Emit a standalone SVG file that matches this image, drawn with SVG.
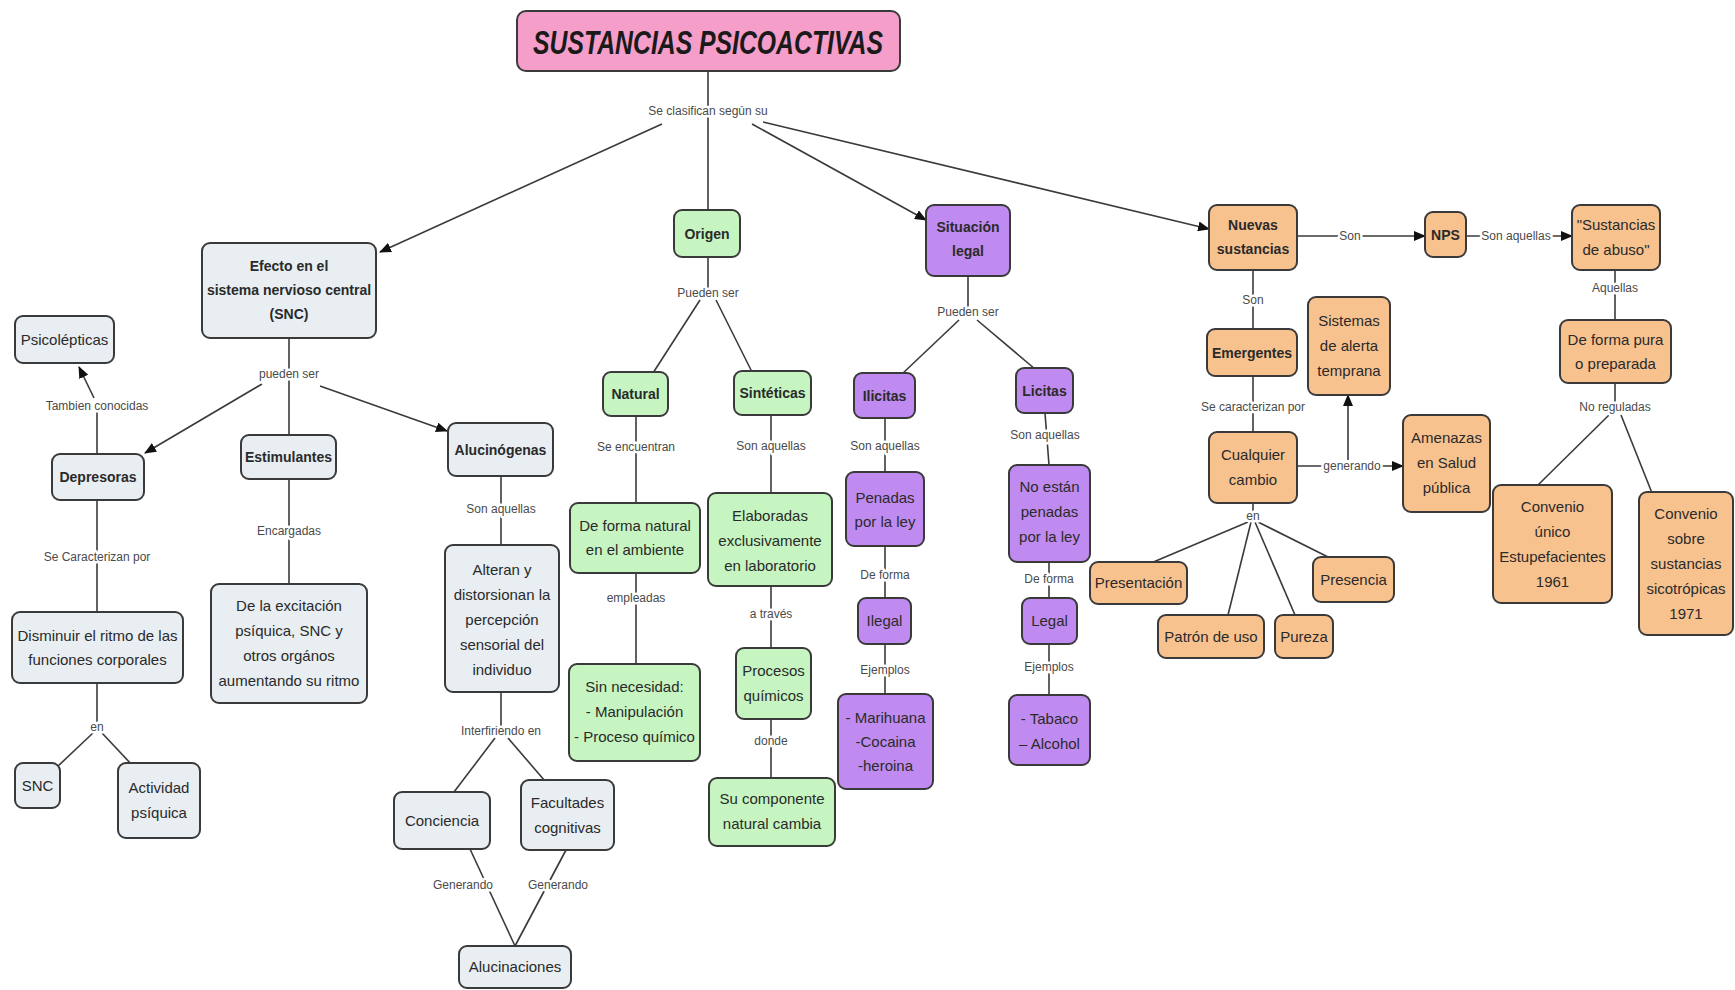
<svg xmlns="http://www.w3.org/2000/svg" width="1735" height="990" viewBox="0 0 1735 990">
<style>
.n rect{stroke:#3a3a3a;stroke-width:2}
.gray rect{fill:#e8eef2}
.green rect{fill:#c6f5c1}
.purple rect{fill:#c08bf0}
.orange rect{fill:#f8c28f}
.pink rect{fill:#f49ec9}
.n text{font-family:"Liberation Sans",Arial,sans-serif;font-size:15px;fill:#2a2a2a;text-anchor:middle}
.n text.b{font-weight:bold;font-size:14px}
.c line,.c path{stroke:#3a3a3a;stroke-width:1.6;fill:none}
.c .a{marker-end:url(#ah)}
.c text{font-family:"Liberation Sans",Arial,sans-serif;font-size:12px;fill:#4a4a4a;text-anchor:middle;paint-order:stroke;stroke:#fff;stroke-width:5px;stroke-linejoin:round}
</style>
<defs>
<marker id="ah" viewBox="0 0 12 10" refX="11" refY="5" markerWidth="12" markerHeight="10" markerUnits="userSpaceOnUse" orient="auto">
<path d="M0,0 L12,5 L0,10 Z" fill="#111"/>
</marker>
</defs>
<rect width="1735" height="990" fill="#fff"/>

<g id="connectors" class="c">
<line x1="708" y1="71" x2="708" y2="210"/>
<line class="a" x1="662" y1="124" x2="380" y2="252"/>
<line class="a" x1="752" y1="124" x2="926" y2="220"/>
<line class="a" x1="763" y1="122" x2="1209" y2="229"/>
<text x="708" y="115">Se clasifican según su</text>

<line x1="289" y1="338" x2="289" y2="435"/>
<line class="a" x1="262" y1="384" x2="145" y2="453"/>
<line class="a" x1="320" y1="386" x2="447" y2="431"/>
<text x="289" y="378">pueden ser</text>

<line x1="97" y1="454" x2="97" y2="412"/>
<line class="a" x1="94" y1="398" x2="79" y2="367"/>
<text x="97" y="410">Tambien conocidas</text>
<line x1="97" y1="500" x2="97" y2="612"/>
<text x="97" y="561">Se Caracterizan por</text>
<line x1="97" y1="683" x2="97" y2="722"/>
<line x1="93" y1="733" x2="57" y2="767"/>
<line x1="102" y1="733" x2="133" y2="766"/>
<text x="97" y="731">en</text>

<line x1="289" y1="479" x2="289" y2="584"/>
<text x="289" y="535">Encargadas</text>

<line x1="501" y1="476" x2="501" y2="545"/>
<text x="501" y="513">Son aquellas</text>
<line x1="501" y1="692" x2="501" y2="730"/>
<line x1="495" y1="738" x2="454" y2="792"/>
<line x1="508" y1="738" x2="545" y2="781"/>
<text x="501" y="735">Interfiriendo en</text>
<line x1="470" y1="849" x2="515" y2="946"/>
<line x1="566" y1="850" x2="515" y2="946"/>
<text x="463" y="889">Generando</text>
<text x="558" y="889">Generando</text>

<line x1="708" y1="257" x2="708" y2="292"/>
<line x1="700" y1="300" x2="653" y2="373"/>
<line x1="716" y1="300" x2="752" y2="372"/>
<text x="708" y="297">Pueden ser</text>
<line x1="636" y1="416" x2="636" y2="503"/>
<text x="636" y="451">Se encuentran</text>
<line x1="636" y1="573" x2="636" y2="664"/>
<text x="636" y="602">empleadas</text>
<line x1="771" y1="415" x2="771" y2="493"/>
<text x="771" y="450">Son aquellas</text>
<line x1="771" y1="586" x2="771" y2="648"/>
<text x="771" y="618">a través</text>
<line x1="771" y1="719" x2="771" y2="778"/>
<text x="771" y="745">donde</text>

<line x1="968" y1="276" x2="968" y2="310"/>
<line x1="959" y1="320" x2="902" y2="374"/>
<line x1="977" y1="320" x2="1035" y2="369"/>
<text x="968" y="316">Pueden ser</text>
<line x1="885" y1="418" x2="885" y2="472"/>
<text x="885" y="450">Son aquellas</text>
<line x1="885" y1="546" x2="885" y2="598"/>
<text x="885" y="579">De forma</text>
<line x1="885" y1="644" x2="885" y2="694"/>
<text x="885" y="674">Ejemplos</text>
<line x1="1045" y1="413" x2="1049" y2="465"/>
<text x="1045" y="439">Son aquellas</text>
<line x1="1049" y1="562" x2="1049" y2="598"/>
<text x="1049" y="583">De forma</text>
<line x1="1049" y1="644" x2="1049" y2="695"/>
<text x="1049" y="671">Ejemplos</text>

<line class="a" x1="1297" y1="236" x2="1425" y2="236"/>
<text x="1350" y="240">Son</text>
<line class="a" x1="1466" y1="236" x2="1572" y2="236"/>
<text x="1516" y="240">Son aquellas</text>
<line x1="1615" y1="270" x2="1615" y2="320"/>
<text x="1615" y="292">Aquellas</text>
<line x1="1615" y1="383" x2="1615" y2="405"/>
<line x1="1609" y1="415" x2="1538" y2="485"/>
<line x1="1621" y1="415" x2="1652" y2="493"/>
<text x="1615" y="411">No reguladas</text>

<line x1="1253" y1="270" x2="1253" y2="329"/>
<text x="1253" y="304">Son</text>
<line x1="1253" y1="376" x2="1253" y2="432"/>
<text x="1253" y="411">Se caracterizan por</text>
<line class="a" x1="1297" y1="466" x2="1403" y2="466"/>
<line class="a" x1="1348" y1="460" x2="1348" y2="395"/>
<text x="1352" y="470">generando</text>
<line x1="1253" y1="503" x2="1253" y2="512"/>
<line x1="1248" y1="522" x2="1151" y2="563"/>
<line x1="1251" y1="522" x2="1228" y2="615"/>
<line x1="1255" y1="522" x2="1295" y2="615"/>
<line x1="1258" y1="522" x2="1330" y2="558"/>
<text x="1253" y="520">en</text>
</g>

<g id="title" class="n pink"><rect x="517" y="11" width="383" height="60" rx="9"/><text x="708" y="54" style="font-weight:bold;font-style:italic;font-size:34px;fill:#1a1a1a" textLength="350" lengthAdjust="spacingAndGlyphs">SUSTANCIAS PSICOACTIVAS</text></g>

<g id="efecto" class="n gray"><rect x="202" y="243" width="174" height="95" rx="8"/><text class="b" x="289" y="271">Efecto en el<tspan x="289" dy="24">sistema nervioso central</tspan><tspan x="289" dy="24">(SNC)</tspan></text></g>
<g id="psicolepticas" class="n gray"><rect x="15" y="316" width="99" height="47" rx="8"/><text x="64.5" y="345">Psicolépticas</text></g>
<g id="depresoras" class="n gray"><rect x="52" y="454" width="92" height="46" rx="8"/><text class="b" x="98" y="482">Depresoras</text></g>
<g id="estimulantes" class="n gray"><rect x="241" y="435" width="95" height="44" rx="8"/><text class="b" x="288.5" y="462">Estimulantes</text></g>
<g id="alucinogenas" class="n gray"><rect x="448" y="423" width="105" height="53" rx="8"/><text class="b" x="500.5" y="455">Alucinógenas</text></g>
<g id="disminuir" class="n gray"><rect x="12" y="612" width="171" height="71" rx="8"/><text x="97.5" y="641">Disminuir el ritmo de las<tspan x="97.5" dy="24">funciones corporales</tspan></text></g>
<g id="excitacion" class="n gray"><rect x="211" y="584" width="156" height="119" rx="8"/><text x="289" y="611">De la excitación<tspan x="289" dy="25">psíquica, SNC y</tspan><tspan x="289" dy="25">otros orgános</tspan><tspan x="289" dy="25">aumentando su ritmo</tspan></text></g>
<g id="alteran" class="n gray"><rect x="445" y="545" width="114" height="147" rx="8"/><text x="502" y="575">Alteran y<tspan x="502" dy="25">distorsionan la</tspan><tspan x="502" dy="25">percepción</tspan><tspan x="502" dy="25">sensorial del</tspan><tspan x="502" dy="25">individuo</tspan></text></g>
<g id="snc" class="n gray"><rect x="15" y="763" width="45" height="45" rx="8"/><text x="37.5" y="791">SNC</text></g>
<g id="actividad" class="n gray"><rect x="118" y="763" width="82" height="75" rx="8"/><text x="159" y="793">Actividad<tspan x="159" dy="25">psíquica</tspan></text></g>
<g id="conciencia" class="n gray"><rect x="394" y="792" width="96" height="57" rx="8"/><text x="442" y="826">Conciencia</text></g>
<g id="facultades" class="n gray"><rect x="521" y="780" width="93" height="70" rx="8"/><text x="567.5" y="808">Facultades<tspan x="567.5" dy="25">cognitivas</tspan></text></g>
<g id="alucinaciones" class="n gray"><rect x="459" y="946" width="112" height="42" rx="8"/><text x="515" y="972">Alucinaciones</text></g>

<g id="origen" class="n green"><rect x="674" y="210" width="66" height="47" rx="8"/><text class="b" x="707" y="239">Origen</text></g>
<g id="natural" class="n green"><rect x="603" y="372" width="65" height="44" rx="8"/><text class="b" x="635.5" y="399">Natural</text></g>
<g id="sinteticas" class="n green"><rect x="734" y="371" width="77" height="44" rx="8"/><text class="b" x="772.5" y="398">Sintéticas</text></g>
<g id="forma-natural" class="n green"><rect x="570" y="503" width="130" height="70" rx="8"/><text x="635" y="531">De forma natural<tspan x="635" dy="24">en el ambiente</tspan></text></g>
<g id="sin-necesidad" class="n green"><rect x="569" y="664" width="131" height="97" rx="8"/><text x="634.5" y="692">Sin necesidad:<tspan x="634.5" dy="25">- Manipulación</tspan><tspan x="634.5" dy="25">- Proceso químico</tspan></text></g>
<g id="elaboradas" class="n green"><rect x="708" y="493" width="124" height="93" rx="8"/><text x="770" y="521">Elaboradas<tspan x="770" dy="25">exclusivamente</tspan><tspan x="770" dy="25">en laboratorio</tspan></text></g>
<g id="procesos" class="n green"><rect x="736" y="648" width="75" height="71" rx="8"/><text x="773.5" y="676">Procesos<tspan x="773.5" dy="25">químicos</tspan></text></g>
<g id="componente" class="n green"><rect x="709" y="778" width="126" height="68" rx="8"/><text x="772" y="804">Su componente<tspan x="772" dy="25">natural cambia</tspan></text></g>

<g id="situacion" class="n purple"><rect x="926" y="205" width="84" height="71" rx="8"/><text class="b" x="968" y="232">Situación<tspan x="968" dy="24">legal</tspan></text></g>
<g id="ilicitas" class="n purple"><rect x="854" y="373" width="61" height="45" rx="8"/><text class="b" x="884.5" y="401">Ilicitas</text></g>
<g id="licitas" class="n purple"><rect x="1016" y="368" width="57" height="45" rx="8"/><text class="b" x="1044.5" y="396">Licitas</text></g>
<g id="penadas" class="n purple"><rect x="846" y="472" width="78" height="74" rx="8"/><text x="885" y="503">Penadas<tspan x="885" dy="24">por la ley</tspan></text></g>
<g id="ilegal" class="n purple"><rect x="858" y="598" width="53" height="46" rx="8"/><text x="884.5" y="626">Ilegal</text></g>
<g id="marihuana" class="n purple"><rect x="838" y="694" width="95" height="95" rx="8"/><text x="885.5" y="723">- Marihuana<tspan x="885.5" dy="24">-Cocaina</tspan><tspan x="885.5" dy="24">-heroina</tspan></text></g>
<g id="no-estan" class="n purple"><rect x="1009" y="465" width="81" height="97" rx="8"/><text x="1049.5" y="492">No están<tspan x="1049.5" dy="25">penadas</tspan><tspan x="1049.5" dy="25">por la ley</tspan></text></g>
<g id="legal" class="n purple"><rect x="1022" y="598" width="55" height="46" rx="8"/><text x="1049.5" y="626">Legal</text></g>
<g id="tabaco" class="n purple"><rect x="1009" y="695" width="81" height="70" rx="8"/><text x="1049.5" y="724">- Tabaco<tspan x="1049.5" dy="25">– Alcohol</tspan></text></g>

<g id="nuevas" class="n orange"><rect x="1209" y="205" width="88" height="65" rx="8"/><text class="b" x="1253" y="230">Nuevas<tspan x="1253" dy="24">sustancias</tspan></text></g>
<g id="nps" class="n orange"><rect x="1425" y="212" width="41" height="45" rx="8"/><text class="b" x="1445.5" y="240">NPS</text></g>
<g id="abuso" class="n orange"><rect x="1572" y="205" width="88" height="65" rx="8"/><text x="1616" y="230">"Sustancias<tspan x="1616" dy="25">de abuso"</tspan></text></g>
<g id="forma-pura" class="n orange"><rect x="1560" y="320" width="111" height="63" rx="8"/><text x="1615.5" y="345">De forma pura<tspan x="1615.5" dy="24">o preparada</tspan></text></g>
<g id="emergentes" class="n orange"><rect x="1207" y="329" width="90" height="47" rx="8"/><text class="b" x="1252" y="358">Emergentes</text></g>
<g id="sistemas" class="n orange"><rect x="1308" y="297" width="82" height="98" rx="8"/><text x="1349" y="326">Sistemas<tspan x="1349" dy="25">de alerta</tspan><tspan x="1349" dy="25">temprana</tspan></text></g>
<g id="cualquier" class="n orange"><rect x="1209" y="432" width="88" height="71" rx="8"/><text x="1253" y="460">Cualquier<tspan x="1253" dy="25">cambio</tspan></text></g>
<g id="amenazas" class="n orange"><rect x="1403" y="415" width="87" height="97" rx="8"/><text x="1446.5" y="443">Amenazas<tspan x="1446.5" dy="25">en Salud</tspan><tspan x="1446.5" dy="25">pública</tspan></text></g>
<g id="presentacion" class="n orange"><rect x="1090" y="562" width="97" height="42" rx="8"/><text x="1138.5" y="588">Presentación</text></g>
<g id="patron" class="n orange"><rect x="1158" y="615" width="106" height="43" rx="8"/><text x="1211" y="642">Patrón de uso</text></g>
<g id="pureza" class="n orange"><rect x="1275" y="615" width="58" height="43" rx="8"/><text x="1304" y="642">Pureza</text></g>
<g id="presencia" class="n orange"><rect x="1313" y="557" width="81" height="45" rx="8"/><text x="1353.5" y="585">Presencia</text></g>
<g id="convenio-unico" class="n orange"><rect x="1493" y="485" width="119" height="118" rx="8"/><text x="1552.5" y="512">Convenio<tspan x="1552.5" dy="25">único</tspan><tspan x="1552.5" dy="25">Estupefacientes</tspan><tspan x="1552.5" dy="25">1961</tspan></text></g>
<g id="convenio-sobre" class="n orange"><rect x="1639" y="492" width="94" height="143" rx="8"/><text x="1686" y="519">Convenio<tspan x="1686" dy="25">sobre</tspan><tspan x="1686" dy="25">sustancias</tspan><tspan x="1686" dy="25">sicotrópicas</tspan><tspan x="1686" dy="25">1971</tspan></text></g>
</svg>
